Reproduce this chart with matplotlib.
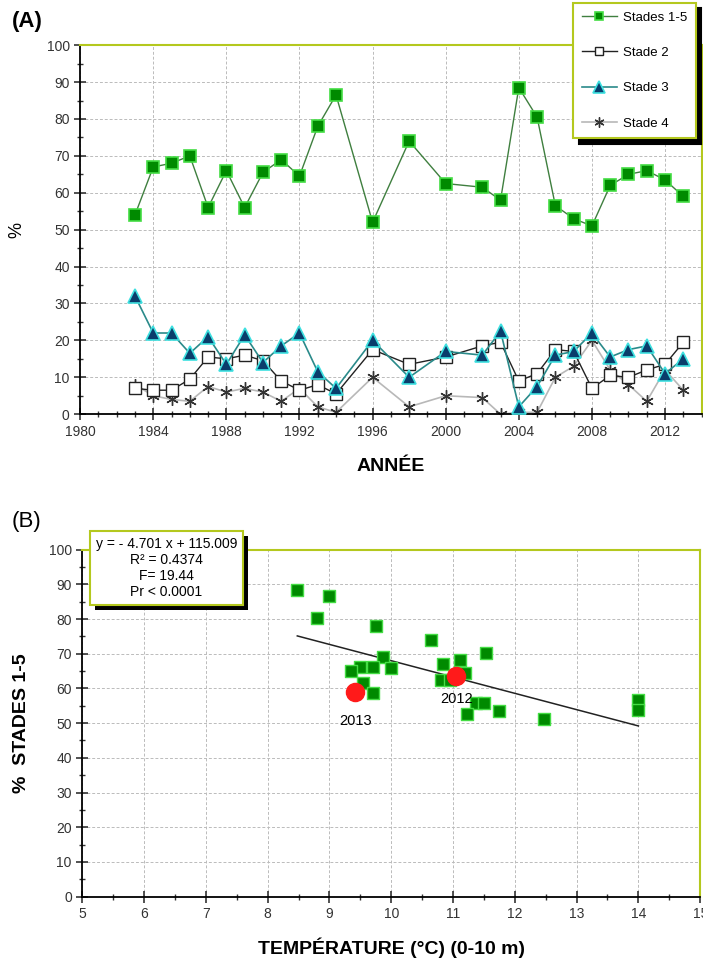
import matplotlib
matplotlib.use("Agg")
import matplotlib.pyplot as plt
from matplotlib.ticker import MultipleLocator
from matplotlib.patches import Rectangle
from matplotlib.transforms import IdentityTransform

plt.rcParams['font.family'] = ['Liberation Sans', 'DejaVu Sans']

# (A) proportions by year
years = [1983, 1984, 1985, 1986, 1987, 1988, 1989, 1990, 1991, 1992, 1993, 1994,
         1996, 1998, 2000, 2002, 2003, 2004, 2005, 2006, 2007, 2008, 2009, 2010,
         2011, 2012, 2013]
stades_1_5 = [54, 67, 68, 70, 56, 66, 56, 65.5, 69, 64.5, 78, 86.5,
              52, 74, 62.5, 61.5, 58, 88.5, 80.5, 56.5, 53, 51, 62, 65,
              66, 63.5, 59]
stade_2 = [7, 6.5, 6.5, 9.5, 15.5, 15, 16, 14.5, 9, 6.5, 8, 5.5,
           17.5, 13.5, 15.5, 18.5, 19.5, 9, 11, 17.5, 17, 7, 10.5, 10,
           12, 13.5, 19.5]
stade_3 = [32, 22, 22, 16.5, 21, 13.5, 21.5, 14, 18.5, 22, 11.5, 7,
           20, 10, 17, 16, 22.5, 2, 7.5, 16, 17, 22, 15.5, 17.5,
           18.5, 11, 15]
stade_4 = [8, 5, 4, 3.5, 7.5, 6, 7, 6, 3.5, 7, 2, 0.5,
           10, 2, 5, 4.5, 0, 0.5, 0.5, 10, 13, 20, 12, 8,
           3.5, 12, 6.5]

# (B) temperature vs % stades 1-5
temp = [8.48, 9.0, 8.8, 9.75, 10.65, 11.54, 9.86, 11.12, 10.83, 9.49, 9.71, 9.99,
        9.35, 11.19, 10.8, 10.95, 9.55, 9.71, 11.38, 11.5, 11.75, 11.22, 12.47,
        14.0, 14.0]
pct = [88.4, 86.7, 80.4, 78.1, 74.1, 70.1, 69, 68.2, 67.1, 66.3, 66.2, 65.8,
       65.1, 64.5, 62.5, 62.5, 61.5, 58.6, 55.8, 55.8, 53.5, 52.5, 51.1,
       56.7, 53.8]
highlight_temp = [11.05, 9.42]
highlight_pct = [63.5, 59]
highlight_lbl = ['2012', '2013']
slope, intercept = -4.701, 115.009
fit_x = [8.48, 14.0]

lime = '#b4c81e'

fig = plt.figure(figsize=(7.03, 9.61), dpi=100)
ax1 = fig.add_axes([0.114, 0.569, 0.884, 0.384])
ax2 = fig.add_axes([0.117, 0.067, 0.879, 0.361])


def style_axes(ax):
    for s in ['top', 'right']:
        ax.spines[s].set_color(lime)
        ax.spines[s].set_linewidth(1.5)
    for s in ['left', 'bottom']:
        ax.spines[s].set_linewidth(1.3)
    ax.grid(True, which='major', color='#bbbbbb', linestyle=(0, (3, 2)), linewidth=0.7)
    ax.tick_params(which='both', direction='inout', top=False, right=False,
                   labelsize=10, colors='#333333')
    ax.tick_params(which='major', length=8, width=1.2)
    ax.tick_params(which='minor', length=5, width=1)
    ax.set_axisbelow(True)


ax1.plot(years, stades_1_5, '-s', color='#3f7f3f', lw=1, ms=8, mfc='#008a00',
         mec='#44dd44', mew=1.2, label='Stades 1-5', zorder=5)
ax1.plot(years, stade_2, '-s', color='#222222', lw=1, ms=8, mfc='white',
         mec='#222222', mew=1, label='Stade 2', zorder=3)
ax1.plot(years, stade_3, '-^', color='#2a8a8a', lw=1.2, ms=10, mfc='#0a3d6b',
         mec='#3ee0e0', mew=1.2, label='Stade 3', zorder=4)
ax1.plot(years, stade_4, '-', color='#b8b8b8', lw=1.2, marker=(6, 2, 0), ms=9,
         mec='#333333', mew=1, label='Stade 4', zorder=2)

ax1.set_xlim(1980, 2014)
ax1.set_ylim(0, 100)
ax1.xaxis.set_major_locator(MultipleLocator(4))
ax1.xaxis.set_minor_locator(MultipleLocator(1))
ax1.yaxis.set_major_locator(MultipleLocator(10))
ax1.yaxis.set_minor_locator(MultipleLocator(5))
style_axes(ax1)
ax1.set_xlabel('ANNÉE', fontsize=14, fontweight='bold', labelpad=14)
ax1.set_ylabel('%', fontsize=13)
ax1.yaxis.set_label_coords(-0.088, 0.5)

leg = ax1.legend(loc='upper left', bbox_to_anchor=(0.815, 0.997),
                 bbox_transform=fig.transFigure, fontsize=9.5, markerscale=0.8,
                 frameon=True, fancybox=False,
                 shadow={'color': 'black', 'alpha': 1, 'ox': 4, 'oy': -4},
                 labelspacing=1.75, handlelength=2.7, borderpad=0.65,
                 handletextpad=0.45, borderaxespad=0)
leg.get_frame().set_edgecolor(lime)
leg.get_frame().set_linewidth(1.5)
leg.set_zorder(10)

fig.text(0.017, 0.978, '(A)', fontsize=16, fontweight='bold', va='center')
fig.text(0.017, 0.457, '(B)', fontsize=16, va='center')

ax2.scatter(temp, pct, marker='s', s=80, c='#008a00', edgecolors='#44dd44',
            linewidths=1, zorder=4)
ax2.plot(fit_x, [slope * x + intercept for x in fit_x], color='#222222', lw=1.1, zorder=3)
ax2.scatter(highlight_temp, highlight_pct, marker='o', s=170, c='#ff1a1a',
            edgecolors='#ff1a1a', zorder=5)
ax2.annotate(highlight_lbl[0], (highlight_temp[0], highlight_pct[0]), xytext=(0, -16),
             textcoords='offset points', ha='center', va='center', fontsize=10.5, zorder=6)
ax2.annotate(highlight_lbl[1], (highlight_temp[1], highlight_pct[1]), xytext=(0, -21),
             textcoords='offset points', ha='center', va='center', fontsize=10.5, zorder=6)

ax2.set_xlim(5, 15)
ax2.set_ylim(0, 100)
ax2.xaxis.set_major_locator(MultipleLocator(1))
ax2.xaxis.set_minor_locator(MultipleLocator(0.5))
ax2.yaxis.set_major_locator(MultipleLocator(10))
ax2.yaxis.set_minor_locator(MultipleLocator(5))
style_axes(ax2)
ax2.set_xlabel('TEMPÉRATURE (°C) (0-10 m)', fontsize=14, fontweight='bold', labelpad=12)
ax2.set_ylabel('%  STADES 1-5', fontsize=14, fontweight='bold')
ax2.yaxis.set_label_coords(-0.084, 0.5)

stats = 'y = - 4.701 x + 115.009\nR² = 0.4374\nF= 19.44\nPr < 0.0001'
st = ax2.text(0.136, 0.947, stats, transform=ax2.transAxes, ha='center', va='center',
              fontsize=10, linespacing=1.2, zorder=10, clip_on=False,
              bbox=dict(boxstyle='square,pad=0.4', fc='white', ec=lime, lw=1.5))

# drop shadow behind the stats box
fig.canvas.draw()
bb = st.get_bbox_patch().get_window_extent()
ax2.add_patch(Rectangle((bb.x0 + 5, bb.y0 - 5), bb.width, bb.height, fc='black',
                        ec='none', transform=IdentityTransform(), zorder=9, clip_on=False))

fig.savefig('out.png', dpi=100)
